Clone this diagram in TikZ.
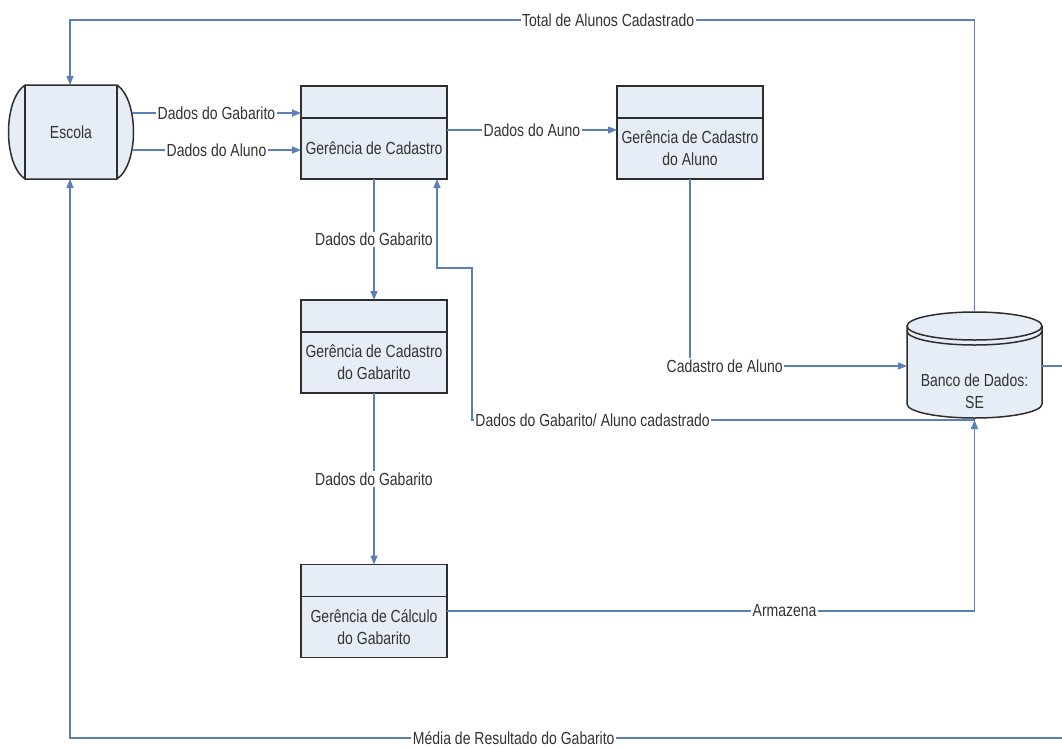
\documentclass[tikz,border=0pt]{standalone}
\usepackage{fontspec}
\setmainfont{Liberation Sans}[FakeStretch=0.8]
\usetikzlibrary{arrows.meta,calc}
\definecolor{lineblue}{HTML}{5B80B8}
\definecolor{boxfill}{HTML}{E7EDF7}
\definecolor{boxline}{HTML}{2E2E2E}
\definecolor{txt}{HTML}{333333}
\newcommand\dgfont{\fontsize{17.5}{22}\selectfont}
\tikzset{
  conn/.style={draw=lineblue, line width=1.4pt, -{Triangle[length=9pt,width=7pt]}},
  proc/.style={draw=boxline, fill=boxfill, line width=1.8pt, minimum width=146pt, minimum height=93pt, inner sep=0pt, outer sep=0pt},
  divline/.style={draw=boxline, line width=1.8pt},
  shapeline/.style={draw=boxline, line width=1.5pt},
  ptext/.style={text=txt, font=\dgfont, align=center, inner sep=0pt},
  lbl/.style={fill=white, text=txt, font=\dgfont, inner sep=1.5pt},
  anchorbox/.style={inner sep=0pt, outer sep=0pt}
}
\begin{document}
\begin{tikzpicture}[x=1pt,y=-1pt]
\clip (0,0) rectangle (1062,747);
\fill[white] (0,0) rectangle (1062,747);

% Escola (external entity)
\node[anchorbox, minimum width=124pt, minimum height=94pt] (escola) at (70,132) {};
\fill[boxfill] (25,85) -- (117,85) .. controls (139,100) and (139,164) .. (117,179) -- (25,179) .. controls (3,164) and (3,100) .. (25,85) -- cycle;
\draw[shapeline] (25,85) -- (117,85) .. controls (139,100) and (139,164) .. (117,179) -- (25,179) .. controls (3,164) and (3,100) .. (25,85) -- cycle;
\draw[shapeline] (25,85) -- (25,179) (117,85) -- (117,179);
\node[ptext] (escolat) at (71,132) {Escola};

% processes
\node[proc] (gc) at (374,132.5) {};
\node[proc] (gca) at (690,132.5) {};
\node[proc] (gcg) at (374,346.5) {};
\node[proc] (gcc) at (374,611) {};
\foreach \n in {gc,gca,gcg,gcc}{
  \draw[divline] ([yshift=-32pt]\n.north west) -- ([yshift=-32pt]\n.north east);
}
\node[ptext] (gct) at (374,148.5) {Gerência de Cadastro};
\node[ptext] (gcat) at (690,148.5) {Gerência de Cadastro\\do Aluno};
\node[ptext] (gcgt) at (374,362.5) {Gerência de Cadastro\\do Gabarito};
\node[ptext] (gcct) at (374,627) {Gerência de Cálculo\\do Gabarito};

% database
\node[anchorbox, minimum width=135pt, minimum height=108pt] (db) at (974.5,366) {};
\fill[boxfill] (907,326) -- (907,404) arc[start angle=180, end angle=360, x radius=67.5pt, y radius=14pt] -- (1042,326) -- cycle;
\draw[shapeline] (907,326) -- (907,404) arc[start angle=180, end angle=360, x radius=67.5pt, y radius=14pt] -- (1042,326);
\draw[shapeline, fill=boxfill] (974.5,326) ellipse[x radius=67.5pt, y radius=14pt];
\draw[shapeline] (907,331) arc[start angle=180, end angle=360, x radius=67.5pt, y radius=14pt];
\node[ptext] (dbt) at (974.5,391) {Banco de Dados:\\SE};

% coordinates for bends
\coordinate (tr) at (974.5,20);
\coordinate (tl) at (70,20);
\coordinate (br1) at (1065,366);
\coordinate (br2) at (1065,738);
\coordinate (bl) at (70,738);
\coordinate (c1) at (472,420);
\coordinate (c2) at (472,268);
\coordinate (c3) at (437,268);

% connectors
\draw[conn] (db.north) -- (tr) -- node[lbl, pos=0.405] {Total de Alunos Cadastrado} (tl) -- (escola.north);
\draw[conn] ([yshift=19pt]escola.east) -- ([yshift=19pt]escola.east -| gc.west) node[lbl, midway] {Dados do Gabarito};
\draw[conn] ([yshift=-18pt]escola.east) -- ([yshift=-18pt]escola.east -| gc.west) node[lbl, midway] {Dados do Aluno};
\draw[conn] ([yshift=2.5pt]gc.east) -- ([yshift=2.5pt]gc.east -| gca.west) node[lbl, midway] {Dados do Auno};
\draw[conn] (gc.south) -- node[lbl] {Dados do Gabarito} (gcg.north);
\draw[conn] (gcg.south) -- node[lbl] {Dados do Gabarito} (gcc.north);
\draw[conn] (gca.south) -- (gca.south |- db.west) -- node[lbl, pos=0.16] {Cadastro de Aluno} (db.west);
\draw[conn] (db.south) -- node[lbl, pos=0.76] {Dados do Gabarito/ Aluno cadastrado} (c1) -- (c2) -- (c3) -- (c3 |- gc.south);
\draw[conn] (gcc.east) -- node[lbl, pos=0.64] {Armazena} (gcc.east -| db.south) -- (db.south);
\draw[conn] (db.east) -- (br1) -- (br2) -- node[lbl, pos=0.554] {Média de Resultado do Gabarito} (bl) -- (escola.south);
\end{tikzpicture}
\end{document}
